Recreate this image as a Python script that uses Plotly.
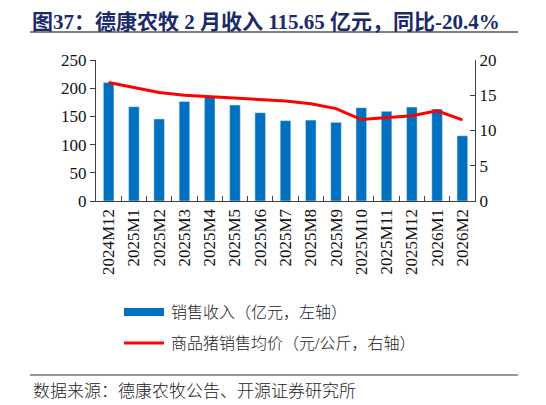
import plotly.graph_objects as go

# months on the x axis
months = ["2024M12", "2025M1", "2025M2", "2025M3", "2025M4", "2025M5",
          "2025M6", "2025M7", "2025M8", "2025M9", "2025M10", "2025M11",
          "2025M12", "2026M1", "2026M2"]

# sales revenue, 100 million yuan (left axis)
revenue = [210, 167, 145.5, 176.5, 184, 170, 156.5, 142.5, 143.5, 139.5,
           165.5, 159, 166.5, 163, 115.65]

# average hog selling price, yuan/kg (right axis)
hog_price = [16.8, 16.15, 15.4, 15.0, 14.8, 14.6, 14.4, 14.2, 13.8, 13.1,
             11.55, 11.8, 12.1, 12.8, 11.5]

title_text = "图37：德康农牧 2 月收入 115.65 亿元，同比-20.4%"
legend_bar = "销售收入（亿元，左轴）"
legend_line = "商品猪销售均价（元/公斤，右轴）"
source_text = "数据来源：德康农牧公告、开源证券研究所"

W, H = 546, 405
OFF = 8                         # default body margin of the html page
L, R, T, B = 96, 475, 60, 201   # plot area in page pixels

BLUE = "#0070C0"
RED = "#FF0000"
AXIS = "#404040"
SERIF = "Liberation Serif, Times New Roman, serif"
CJK = "Liberation Serif, Noto Sans CJK SC, sans-serif"


def px(x):
    return (x - L) / (R - L)


def py(y):
    return (B - y) / (B - T)


bar = go.Bar(x=months, y=revenue, marker_color=BLUE, name=legend_bar,
             showlegend=False)
line = go.Scatter(x=months, y=hog_price, mode="lines", yaxis="y2",
                  line=dict(color=RED, width=3), name=legend_line,
                  showlegend=False)

fig = go.Figure(data=[bar, line])

shapes = [
    # title underline and source line
    dict(type="line", xref="paper", yref="paper", x0=px(30), x1=px(518),
         y0=py(32), y1=py(32), line=dict(color="#555555", width=1.5)),
    dict(type="line", xref="paper", yref="paper", x0=px(30), x1=px(518),
         y0=py(375), y1=py(375), line=dict(color="#333333", width=1.2)),
    # hand-made legend symbols
    dict(type="rect", xref="paper", yref="paper", x0=px(124), x1=px(164),
         y0=py(308), y1=py(316), fillcolor=BLUE, line=dict(width=0)),
    dict(type="line", xref="paper", yref="paper", x0=px(124), x1=px(164),
         y0=py(343), y1=py(343), line=dict(color=RED, width=3)),
]

annotations = [
    dict(text="<b>" + title_text + "</b>", xref="paper", yref="paper",
         x=px(31), y=py(OFF + 1), xanchor="left", yanchor="top",
         borderpad=0, showarrow=False,
         font=dict(family=CJK, size=21, color="#1B2A6B")),
    dict(text=legend_bar, xref="paper", yref="paper", x=px(169), y=py(312),
         xanchor="left", yanchor="middle", showarrow=False,
         font=dict(family=CJK, size=16, color="#222222", weight=300)),
    dict(text=legend_line, xref="paper", yref="paper", x=px(169), y=py(343),
         xanchor="left", yanchor="middle", showarrow=False,
         font=dict(family=CJK, size=16, color="#222222", weight=300)),
    dict(text=source_text, xref="paper", yref="paper", x=px(31), y=py(391),
         xanchor="left", yanchor="middle", showarrow=False,
         font=dict(family=CJK, size=17, color="#222222", weight=300)),
]

fig.update_layout(
    width=W - OFF, height=H - OFF,
    margin=dict(l=L - OFF, r=W - R, t=T - OFF, b=H - B, pad=0),
    paper_bgcolor="white", plot_bgcolor="white",
    bargap=0.58,
    showlegend=False,
    shapes=shapes,
    annotations=annotations,
    font=dict(family=SERIF, size=16, color="#111111"),
    xaxis=dict(
        type="category", tickangle=-90, showline=True, linecolor=AXIS,
        linewidth=1.2, ticks="inside", tickson="boundaries", ticklen=5,
        tickcolor=AXIS, showgrid=False, tickfont=dict(family=SERIF, size=17),
    ),
    yaxis=dict(
        range=[0, 250], dtick=50, showline=True, linecolor=AXIS,
        linewidth=1.2, ticks="outside", ticklen=5, tickcolor=AXIS,
        showgrid=False, zeroline=False, tickfont=dict(family=SERIF, size=17),
    ),
    yaxis2=dict(
        range=[0, 20], dtick=5, overlaying="y", side="right", showline=True,
        linecolor=AXIS, linewidth=1.2, ticks="inside", ticklen=5,
        tickcolor=AXIS, showgrid=False, zeroline=False,
        tickfont=dict(family=SERIF, size=17),
    ),
)

fig.write_html("out.html")
